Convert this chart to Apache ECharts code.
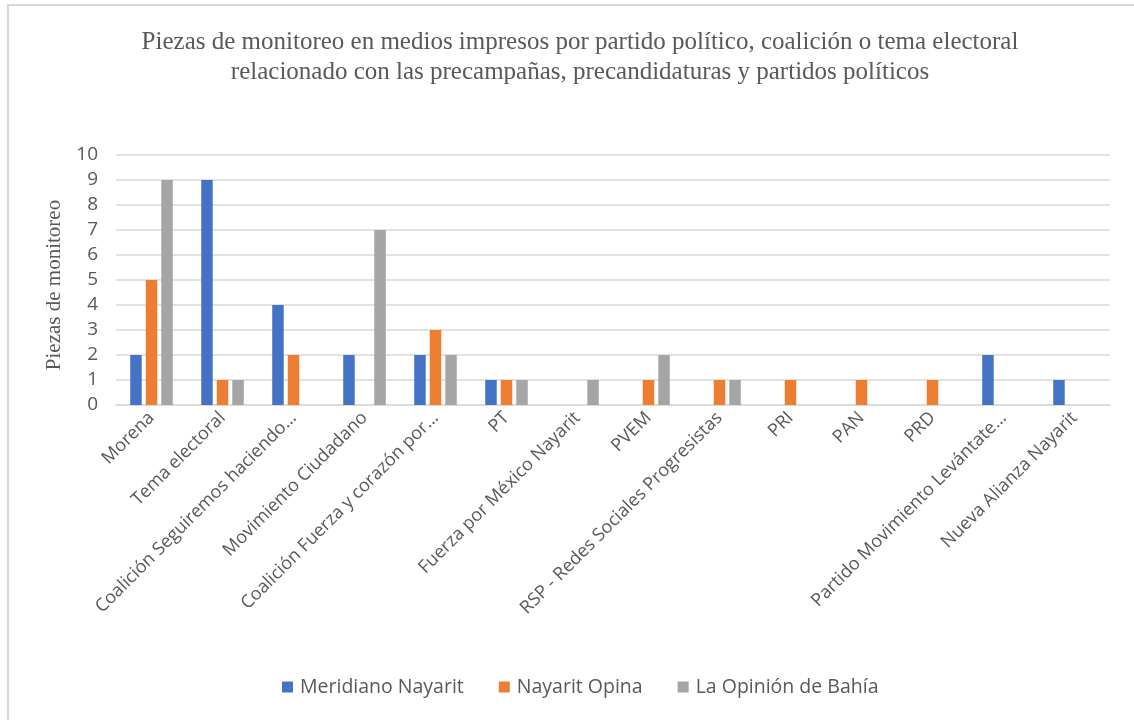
<!DOCTYPE html>
<html>
<head>
<meta charset="utf-8">
<style>
html,body{margin:0;padding:0;background:#fff;}
#chart{width:1134px;height:720px;}
</style>
<script src="https://cdn.jsdelivr.net/npm/echarts@6/dist/echarts.min.js"></script>
</head>
<body>
<div id="chart"></div>
<script>
const titleLines = [
  'Piezas de monitoreo en medios impresos por partido político, coalición o tema electoral',
  'relacionado con las precampañas, precandidaturas y partidos políticos'
];
const yAxisName = 'Piezas de monitoreo';
const categories = [
  'Morena',
  'Tema electoral',
  'Coalición Seguiremos haciendo…',
  'Movimiento Ciudadano',
  'Coalición Fuerza y corazón por…',
  'PT',
  'Fuerza por México Nayarit',
  'PVEM',
  'RSP - Redes Sociales Progresistas',
  'PRI',
  'PAN',
  'PRD',
  'Partido Movimiento Levántate…',
  'Nueva Alianza Nayarit'
];
const seriesNames = ['Meridiano Nayarit', 'Nayarit Opina', 'La Opinión de Bahía'];
const meridianoNayarit = [2, 9, 4, 2, 2, 1, 0, 0, 0, 0, 0, 0, 2, 1];
const nayaritOpina     = [5, 1, 2, 0, 3, 1, 0, 1, 1, 1, 1, 1, 0, 0];
const laOpinionBahia   = [9, 1, 0, 7, 2, 1, 1, 2, 1, 0, 0, 0, 0, 0];
const colors = ['#4472C4', '#ED7D31', '#A5A5A5'];

const chart = echarts.init(document.getElementById('chart'));
const values = [meridianoNayarit, nayaritOpina, laOpinionBahia];
chart.setOption({
  animation: false,
  backgroundColor: '#fff',
  color: colors,
  graphic: [{
    type: 'rect',
    shape: { x: 8, y: 5, width: 1300, height: 900 },
    style: { fill: 'none', stroke: '#D9D9D9', lineWidth: 2 },
    silent: true
  }],
  title: {
    text: titleLines.join('\n'),
    left: 575,
    textAlign: 'center',
    top: 22,
    textStyle: {
      fontFamily: 'Liberation Serif',
      fontWeight: 'normal',
      fontSize: 25,
      lineHeight: 30,
      color: '#595959'
    }
  },
  legend: {
    bottom: 18,
    left: 277,
    itemWidth: 11,
    itemHeight: 11,
    itemGap: 35,
    icon: 'rect',
    textStyle: { fontFamily: 'Open Sans', fontSize: 19.5, color: '#595959', padding: [0, 0, 0, 2] },
    data: seriesNames
  },
  grid: { left: 116, right: 24, top: 155, bottom: 315, containLabel: false },
  xAxis: {
    type: 'category',
    data: categories,
    axisLine: { lineStyle: { color: '#D9D9D9', width: 1.5 } },
    axisTick: { show: false },
    axisLabel: {
      interval: 0,
      rotate: 45,
      margin: 10,
      fontFamily: 'Open Sans',
      fontSize: 18,
      color: '#595959'
    }
  },
  yAxis: {
    type: 'value',
    min: 0,
    max: 10,
    interval: 1,
    name: yAxisName,
    nameLocation: 'middle',
    nameGap: 50,
    nameTextStyle: { fontFamily: 'Liberation Serif', fontSize: 21, color: '#595959', padding: [0, 10, 0, 0] },
    axisLine: { show: false },
    axisTick: { show: false },
    axisLabel: { fontFamily: 'Open Sans', fontSize: 19, color: '#595959', margin: 18 },
    splitLine: { lineStyle: { color: '#D9D9D9', width: 1.5 } }
  },
  series: seriesNames.map((n, i) => ({
    name: n,
    type: 'bar',
    data: values[i],
    barWidth: 11.5,
    barGap: '35%'
  }))
});
</script>
</body>
</html>
